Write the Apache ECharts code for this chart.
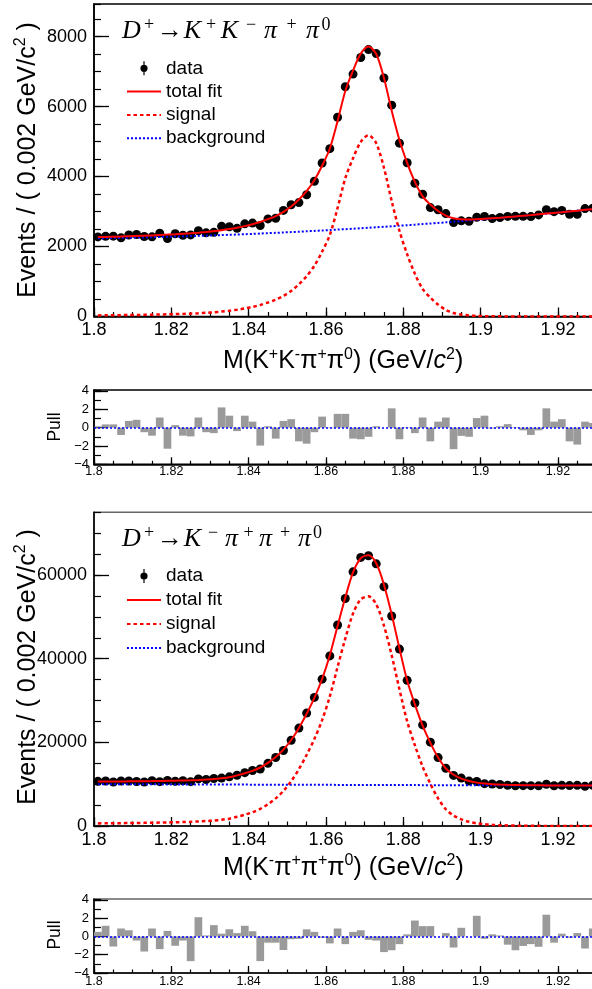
<!DOCTYPE html>
<html>
<head>
<meta charset="utf-8">
<script src="https://cdn.jsdelivr.net/npm/echarts@6/dist/echarts.min.js"></script>
<style>
  html, body { margin: 0; padding: 0; background: #fff; }
  #chart { width: 592px; height: 989px; }
</style>
</head>
<body>
<div id="chart"></div>
<script>
// Bin centres in GeV/c^2 (2 MeV/c^2 bins from 1.800)
const binCenters = [
  1.801, 1.803, 1.805, 1.807, 1.809, 1.811, 1.813, 1.815, 1.817, 1.819,
  1.821, 1.823, 1.825, 1.827, 1.829, 1.831, 1.833, 1.835, 1.837, 1.839,
  1.841, 1.843, 1.845, 1.847, 1.849, 1.851, 1.853, 1.855, 1.857, 1.859,
  1.861, 1.863, 1.865, 1.867, 1.869, 1.871, 1.873, 1.875, 1.877, 1.879,
  1.881, 1.883, 1.885, 1.887, 1.889, 1.891, 1.893, 1.895, 1.897, 1.899,
  1.901, 1.903, 1.905, 1.907, 1.909, 1.911, 1.913, 1.915, 1.917, 1.919,
  1.921, 1.923, 1.925, 1.927, 1.929
];

// D+ -> K+ K- pi+ pi0
const kkData = [
  2274, 2291, 2296, 2248, 2329, 2342, 2285, 2276, 2382, 2229,
  2365, 2322, 2332, 2450, 2391, 2409, 2576, 2565, 2519, 2648,
  2669, 2599, 2789, 2807, 3031, 3194, 3256, 3479, 3865, 4387,
  4797, 5695, 6566, 6928, 7402, 7628, 7513, 6815, 6040, 4954,
  4393, 3808, 3495, 3113, 3050, 2940, 2683, 2734, 2721, 2835,
  2859, 2800, 2830, 2860, 2862, 2863, 2855, 2903, 3054, 2996,
  3031, 2921, 2923, 3084, 3098
];
const kkTotal = [
  2269, 2274, 2279, 2286, 2294, 2301, 2309, 2318, 2329, 2340,
  2352, 2365, 2379, 2396, 2416, 2439, 2467, 2500, 2538, 2582,
  2636, 2701, 2781, 2871, 2991, 3142, 3343, 3584, 3896, 4308,
  4800, 5583, 6446, 7029, 7512, 7716, 7500, 6815, 5879, 5044,
  4390, 3845, 3431, 3198, 3014, 2881, 2808, 2781, 2774, 2780,
  2790, 2805, 2822, 2840, 2859, 2879, 2898, 2919, 2940, 2961,
  2981, 3003, 3025, 3048, 3070
];
const kkSignal = [
  32, 34, 36, 39, 42, 45, 48, 52, 57, 62,
  68, 75, 82, 92, 105, 120, 140, 165, 195, 230,
  275, 330, 400, 480, 590, 730, 920, 1150, 1450, 1850,
  2330, 3100, 3950, 4520, 4990, 5180, 4950, 4250, 3300, 2450,
  1780, 1220, 790, 540, 340, 190, 100, 55, 30, 18,
  10, 6, 4, 3, 2, 2, 1, 1, 1, 1,
  0, 0, 0, 0, 0
];
const kkBkg = [
  2237, 2240, 2243, 2247, 2252, 2256, 2261, 2266, 2272, 2278,
  2284, 2290, 2297, 2304, 2311, 2319, 2327, 2335, 2343, 2352,
  2361, 2371, 2381, 2391, 2401, 2412, 2423, 2434, 2446, 2458,
  2470, 2483, 2496, 2509, 2522, 2536, 2550, 2565, 2579, 2594,
  2610, 2625, 2641, 2658, 2674, 2691, 2708, 2726, 2744, 2762,
  2780, 2799, 2818, 2837, 2857, 2877, 2897, 2918, 2939, 2960,
  2981, 3003, 3025, 3048, 3070
];
const kkPull = [
  0.1, 0.35, 0.35, -0.8, 0.73, 0.85, -0.5, -0.88, 1.1, -2.3,
  0.27, -0.88, -0.96, 1.1, -0.5, -0.6, 2.2, 1.3, -0.38, 1.3,
  0.65, -1.96, 0.15, -1.2, 0.73, 0.92, -1.5, -1.75, -0.5, 1.2,
  -0.05, 1.5, 1.5, -1.2, -1.27, -1.0, 0.15, 0.0, 2.1, -1.27,
  0.05, -0.6, 1.1, -1.5, 0.65, 1.1, -2.35, -0.9, -1.0, 1.04,
  1.3, -0.1, 0.15, 0.38, 0.05, -0.3, -0.8, -0.3, 2.1, 0.65,
  0.92, -1.5, -1.85, 0.65, 0.5
];

// D+ -> K- pi+ pi+ pi0
const kpData = [
  10676, 10771, 10516, 10764, 10756, 10636, 10518, 10843, 10603, 10872,
  10711, 10824, 10608, 11262, 11116, 11367, 11448, 11753, 12147, 12746,
  13264, 13617, 14982, 16373, 18038, 20512, 23411, 26999, 30746, 35109,
  40659, 48049, 54400, 60759, 64211, 64599, 62673, 57226, 50201, 42289,
  34829, 29417, 24171, 20048, 16360, 13804, 12095, 11459, 10738, 10638,
  10117, 10028, 9919, 9738, 9624, 9641, 9645, 9596, 9979, 9622,
  9722, 9663, 9714, 9516, 9756
];
const kpTotal = [
  10617, 10632, 10646, 10661, 10676, 10690, 10715, 10739, 10769, 10799,
  10833, 10878, 10932, 11007, 11102, 11216, 11411, 11655, 12100, 12595,
  13189, 13984, 15078, 16473, 18268, 20562, 23457, 26851, 30646, 35141,
  40835, 47830, 54624, 60619, 64014, 64708, 62803, 57697, 50592, 42487,
  34781, 29076, 23970, 19865, 16360, 13754, 12249, 11343, 10738, 10373,
  10147, 10002, 9906, 9841, 9796, 9760, 9740, 9724, 9709, 9699,
  9688, 9680, 9672, 9665, 9658
];
const kpSignal = [
  620, 640, 660, 680, 700, 720, 750, 780, 815, 850,
  890, 940, 1000, 1080, 1180, 1300, 1500, 1750, 2200, 2700,
  3300, 4100, 5200, 6600, 8400, 10700, 13600, 17000, 20800, 25300,
  31000, 38000, 44800, 50800, 54200, 54900, 53000, 47900, 40800, 32700,
  25000, 19300, 14200, 10100, 6600, 4000, 2500, 1600, 1000, 640,
  420, 280, 190, 130, 90, 60, 45, 35, 25, 20,
  15, 12, 10, 8, 6
];
const kpBkg = [
  9997, 9992, 9986, 9981, 9976, 9970, 9965, 9959, 9954, 9949,
  9943, 9938, 9932, 9927, 9922, 9916, 9911, 9905, 9900, 9895,
  9889, 9884, 9878, 9873, 9868, 9862, 9857, 9851, 9846, 9841,
  9835, 9830, 9824, 9819, 9814, 9808, 9803, 9797, 9792, 9787,
  9781, 9776, 9770, 9765, 9760, 9754, 9749, 9743, 9738, 9733,
  9727, 9722, 9716, 9711, 9706, 9700, 9695, 9689, 9684, 9679,
  9673, 9668, 9662, 9657, 9652
];
const kpPull = [
  0.5, 1.17, -1.1, 0.87, 0.68, -0.45, -1.65, 0.87, -1.39, 0.61,
  -1.02, -0.45, -2.7, 2.11, 0.11, 1.24, 0.3, 0.79, 0.37, 1.17,
  0.57, -2.7, -0.68, -0.68, -1.48, -0.3, -0.26, 0.78, 0.5, -0.15,
  -0.76, 0.87, -0.84, 0.5, 0.68, -0.37, -0.45, -1.71, -1.51, -0.84,
  0.23, 1.74, 1.13, 1.13, 0.0, 0.37, -1.21, 0.95, 0.0, 2.26,
  -0.26, 0.23, 0.11, -0.9, -1.51, -1.04, -0.84, -1.13, 2.38, -0.68,
  0.3, -0.15, 0.37, -1.32, 0.87
];

// Axis ranges and tick steps
const massMin = 1.8, massMax = 1.93, massStep = 0.02, massMinorStep = 0.005;
const kkMax = 8930, kkStep = 2000, kkMinorStep = 500;
const kpMax = 75000, kpStep = 20000, kpMinorStep = 5000;
const pullMin = -4, pullMax = 4.1, pullStep = 2, pullMinorStep = 1;

const legendNames = ['data', 'total fit', 'signal', 'background'];

const SANS = "'Liberation Sans', Arial, Helvetica, sans-serif";
const SERIF = "'Liberation Serif', 'Times New Roman', serif";

const pairs = (ys) => binCenters.map((x, i) => [x, ys[i]]);
const massFmt = (v) => String(+v.toFixed(3));
const intFmt = (v) => String(Math.round(v));
const pullFmt = (v) => (v < 0 ? '\u2212' + Math.abs(v) : String(v));

// Each panel gets a labelled major axis and an unlabelled axis that only draws minor ticks
function massAxes(g, main, margin) {
  return [
    {
      gridIndex: g, type: 'value', position: 'bottom',
      min: massMin, max: massMax, interval: massStep,
      axisLine: { show: true, onZero: false, lineStyle: { color: '#000', width: 1.6 } },
      axisTick: { show: true, inside: true, length: main ? 9 : 7, lineStyle: { color: '#000', width: 1.3 } },
      axisLabel: {
        show: true, margin: margin, color: '#000', fontFamily: SANS,
        fontSize: main ? 18 : 12.5, showMinLabel: true, showMaxLabel: false,
        formatter: massFmt
      },
      splitLine: { show: false }
    },
    {
      gridIndex: g, type: 'value', position: 'bottom',
      min: massMin, max: massMax, interval: massMinorStep,
      axisLine: { show: false, onZero: false },
      axisTick: { show: true, inside: true, length: main ? 4.5 : 3.5, lineStyle: { color: '#000', width: 1.2 } },
      axisLabel: { show: false },
      splitLine: { show: false }
    }
  ];
}

function valueAxes(g, min, max, step, minorStep, opts) {
  return [
    {
      gridIndex: g, type: 'value', position: 'left',
      min: min, max: max, interval: step,
      axisLine: { show: true, onZero: false, lineStyle: { color: '#000', width: 1.6 } },
      axisTick: { show: true, inside: true, length: opts.tick, lineStyle: { color: '#000', width: 1.3 } },
      axisLabel: {
        show: true, margin: opts.margin, color: '#000', fontFamily: SANS,
        fontSize: opts.fontSize, showMinLabel: true, showMaxLabel: false,
        formatter: opts.fmt
      },
      splitLine: { show: false }
    },
    {
      gridIndex: g, type: 'value', position: 'left',
      min: min, max: max, interval: minorStep,
      axisLine: { show: false, onZero: false },
      axisTick: { show: true, inside: true, length: opts.minorTick, lineStyle: { color: '#000', width: 1.2 } },
      axisLabel: { show: false },
      splitLine: { show: false }
    }
  ];
}

function fitSeries(axis, dataY, totalY, signalY, bkgY) {
  return [
    {
      type: 'scatter', name: 'data', xAxisIndex: axis, yAxisIndex: axis,
      data: pairs(dataY), symbol: 'circle', symbolSize: 9,
      itemStyle: { color: '#000', opacity: 1 }
    },
    {
      type: 'line', name: 'background', xAxisIndex: axis, yAxisIndex: axis,
      data: pairs(bkgY), symbol: 'none', showSymbol: false, smooth: 0.3,
      lineStyle: { color: '#0000ff', width: 2, type: [2, 2] },
      itemStyle: { color: '#0000ff' }
    },
    {
      type: 'line', name: 'signal', xAxisIndex: axis, yAxisIndex: axis,
      data: pairs(signalY), symbol: 'none', showSymbol: false, smooth: 0.3,
      lineStyle: { color: '#ff0000', width: 2.5, type: [3.5, 3] },
      itemStyle: { color: '#ff0000' }
    },
    {
      type: 'line', name: 'total fit', xAxisIndex: axis, yAxisIndex: axis,
      data: pairs(totalY), symbol: 'none', showSymbol: false, smooth: 0.3,
      lineStyle: { color: '#ff0000', width: 2 },
      itemStyle: { color: '#ff0000' }
    }
  ];
}

function pullSeries(axis, pullY) {
  return {
    type: 'bar', name: 'pull', xAxisIndex: axis, yAxisIndex: axis,
    data: pairs(pullY), barWidth: 7.73,
    itemStyle: { color: '#9a9a9a' },
    markLine: {
      silent: true, symbol: ['none', 'none'], animation: false,
      label: { show: false },
      lineStyle: { color: '#0000ff', width: 1.5, type: [2, 2] },
      data: [{ yAxis: 0 }]
    }
  };
}

const DATA_ICON = 'path://M0.4,7 A3.6,3.6 0 1 1 7.6,7 A3.6,3.6 0 1 1 0.4,7 Z M3.4,0 L4.6,0 L4.6,14 L3.4,14 Z';
const legendData = legendNames.map((n) =>
  n === 'data' ? { name: n, icon: DATA_ICON } : { name: n, itemStyle: { opacity: 0 } }
);
function legendAt(top, gap) {
  return {
    top: top, left: 126, orient: 'vertical', selectedMode: false,
    itemWidth: 34, itemHeight: 14, itemGap: gap, padding: 0,
    symbolKeepAspect: true,
    textStyle: { fontSize: 19, lineHeight: 19, fontFamily: SANS, color: '#000' },
    data: legendData
  };
}

const supTop = { fontFamily: SANS, fontSize: 16, lineHeight: 14, verticalAlign: 'top', fill: '#000' };
const titleRich = {
  t: { fontFamily: SANS, fontSize: 25, lineHeight: 30, fill: '#000' },
  c: { fontFamily: SANS, fontSize: 25, lineHeight: 30, fontStyle: 'italic', fill: '#000' },
  s: supTop
};

// Math-style decay labels: each glyph sits in a fixed-width slot, like typeset math
function mathTok(width, kind) {
  const base = { fontFamily: SERIF, fill: '#000', width: width, align: 'left' };
  if (kind === 'sup') return Object.assign(base, { fontSize: 18, lineHeight: 13, verticalAlign: 'top', align: 'center' });
  if (kind === 'op') return Object.assign(base, { fontSize: 26, lineHeight: 30, align: 'center' });
  return Object.assign(base, { fontSize: 26, lineHeight: 30, fontStyle: 'italic' });
}
function decayLabel(parts) {
  const rich = {};
  let str = '';
  parts.forEach((p, k) => {
    const key = 'g' + k;
    rich[key] = mathTok(p[1], p[2]);
    str += '{' + key + '|' + p[0] + '}';
  });
  return { str: str, rich: rich };
}
const kkLabel = decayLabel([
  ['D', 19, 'var'], ['+', 16, 'sup'], ['\u2192', 26, 'op'],
  ['K', 19, 'var'], ['+', 18, 'sup'], ['K', 19, 'var'], ['\u2212', 24, 'sup'],
  ['\u03c0', 15, 'var'], ['+', 27, 'sup'], ['\u03c0', 15, 'var'], ['0', 12, 'sup']
]);
const kpLabel = decayLabel([
  ['D', 19, 'var'], ['+', 16, 'sup'], ['\u2192', 26, 'op'],
  ['K', 19, 'var'], ['\u2212', 22, 'sup'], ['\u03c0', 15, 'var'], ['+', 19, 'sup'],
  ['\u03c0', 15, 'var'], ['+', 24, 'sup'], ['\u03c0', 15, 'var'], ['0', 11, 'sup']
]);

function text(x, y, str, rich, rotation, align, vAlign) {
  return {
    type: 'text', x: x, y: y, rotation: rotation || 0, silent: true,
    style: {
      text: str, rich: rich, x: 0, y: 0,
      align: align, textAlign: align,
      verticalAlign: vAlign, textVerticalAlign: vAlign,
      fill: '#000'
    }
  };
}

const yTitle = '{t|Events / ( 0.002 GeV/c}{s|2}{t| )}';
const pullRich = { p: { fontFamily: SANS, fontSize: 17.5, lineHeight: 20, fill: '#000' } };

const option = {
  animation: false,
  backgroundColor: '#fff',
  grid: [
    { left: 94, top: 4, width: 502.6, height: 312.5, show: true, borderColor: '#000', borderWidth: 1.5, containLabel: false, outerBoundsMode: 'none' },
    { left: 94, top: 390, width: 502.6, height: 74.3, show: true, borderColor: '#000', borderWidth: 1.5, containLabel: false, outerBoundsMode: 'none' },
    { left: 94, top: 512.3, width: 502.6, height: 313.7, show: true, borderColor: '#666', borderWidth: 1.5, containLabel: false, outerBoundsMode: 'none' },
    { left: 94, top: 899, width: 502.6, height: 74, show: true, borderColor: '#666', borderWidth: 1.5, containLabel: false, outerBoundsMode: 'none' }
  ],
  xAxis: [].concat(
    massAxes(0, true, 5),
    massAxes(1, false, 1),
    massAxes(2, true, 5),
    massAxes(3, false, 2.5)
  ),
  yAxis: [].concat(
    valueAxes(0, 0, kkMax, kkStep, kkMinorStep, { tick: 15, minorTick: 7, margin: 7, fontSize: 18, fmt: intFmt }),
    valueAxes(1, pullMin, pullMax, pullStep, pullMinorStep, { tick: 14, minorTick: 7, margin: 5, fontSize: 13, fmt: pullFmt }),
    valueAxes(2, 0, kpMax, kpStep, kpMinorStep, { tick: 15, minorTick: 7, margin: 7, fontSize: 18, fmt: intFmt }),
    valueAxes(3, pullMin, pullMax, pullStep, pullMinorStep, { tick: 14, minorTick: 7, margin: 5, fontSize: 13, fmt: pullFmt })
  ),
  legend: [legendAt(58.8, 4.3), legendAt(566.5, 5)],
  series: [].concat(
    fitSeries(0, kkData, kkTotal, kkSignal, kkBkg),
    [pullSeries(2, kkPull)],
    fitSeries(4, kpData, kpTotal, kpSignal, kpBkg),
    [pullSeries(6, kpPull)]
  ),
  graphic: [
    text(122, 16, kkLabel.str, kkLabel.rich, 0, 'left', 'top'),
    text(122, 524.5, kpLabel.str, kpLabel.rich, 0, 'left', 'top'),
    text(223, 346.5, '{t|M(K}{s|+}{t|K}{s|-}{t|\u03c0}{s|+}{t|\u03c0}{s|0}{t|) (GeV/}{c|c}{s|2}{t|)}', titleRich, 0, 'left', 'top'),
    text(223, 852.7, '{t|M(K}{s|-}{t|\u03c0}{s|+}{t|\u03c0}{s|+}{t|\u03c0}{s|0}{t|) (GeV/}{c|c}{s|2}{t|)}', titleRich, 0, 'left', 'top'),
    text(28, 160, yTitle, titleRich, Math.PI / 2, 'center', 'middle'),
    text(28, 667, yTitle, titleRich, Math.PI / 2, 'center', 'middle'),
    text(55, 427, '{p|Pull}', pullRich, Math.PI / 2, 'center', 'middle'),
    text(55, 935, '{p|Pull}', pullRich, Math.PI / 2, 'center', 'middle')
  ]
};

const chart = echarts.init(document.getElementById('chart'), null, { renderer: 'canvas' });
chart.setOption(option);
</script>
</body>
</html>
